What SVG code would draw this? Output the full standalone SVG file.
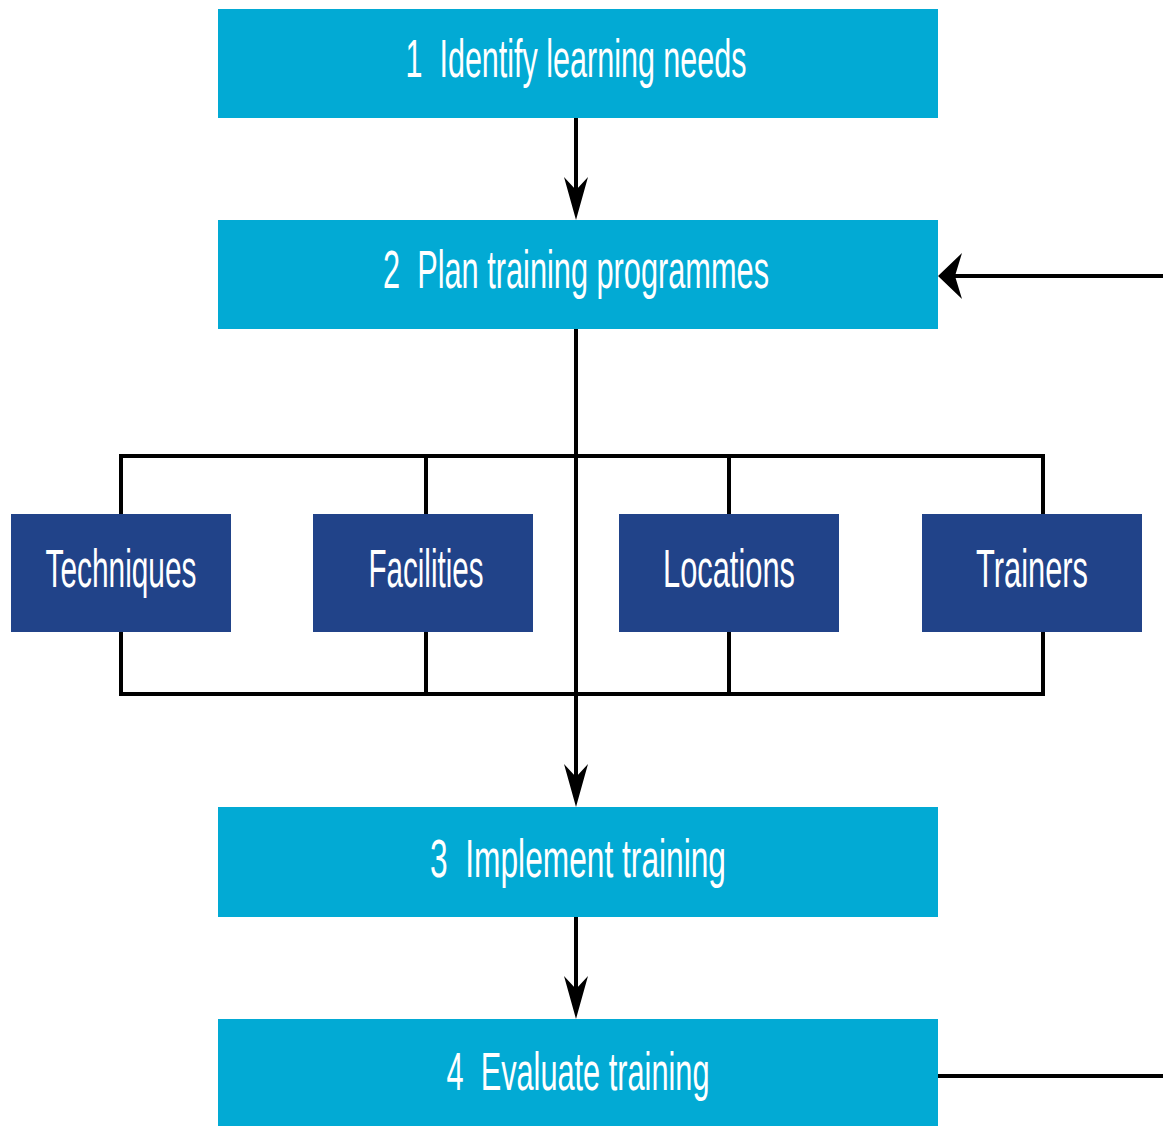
<svg xmlns="http://www.w3.org/2000/svg" width="1163" height="1126" viewBox="0 0 1163 1126">
  <style>
    .step { fill: #02aad4; }
    .item { fill: #214389; }
    .label { fill: #ffffff; font-family: "Liberation Sans", "DejaVu Sans", sans-serif; font-size: 54px; text-anchor: middle; }
    .wire { stroke: #000000; stroke-width: 4; fill: none; }
    .head { fill: #000000; }
  </style>
  <rect width="1163" height="1126" fill="#ffffff"/>

  <!-- connectors -->
  <g id="connectors">
    <line class="wire" x1="576" y1="118" x2="576" y2="200"/>
    <path class="head" d="M576,220 L564,177 L576,190 L588,177 Z"/>
    <line class="wire" x1="576" y1="329" x2="576" y2="790"/>
    <path class="head" d="M576,807 L564,764 L576,777 L588,764 Z"/>
    <!-- branch frame joining the four resources -->
    <polyline class="wire" points="121,514 121,456 1043,456 1043,514"/>
    <line class="wire" x1="426" y1="456" x2="426" y2="514"/>
    <line class="wire" x1="729" y1="456" x2="729" y2="514"/>
    <polyline class="wire" points="121,632 121,694 1043,694 1043,632"/>
    <line class="wire" x1="426" y1="632" x2="426" y2="694"/>
    <line class="wire" x1="729" y1="632" x2="729" y2="694"/>
    <line class="wire" x1="576" y1="917" x2="576" y2="1000"/>
    <path class="head" d="M576,1019 L564,976 L576,989 L588,976 Z"/>
    <!-- feedback loop -->
    <line class="wire" x1="938" y1="1076" x2="1163" y2="1076"/>
    <line class="wire" x1="952" y1="276" x2="1163" y2="276"/>
    <path class="head" d="M938,276 L962,253 L955,276 L962,299 Z"/>
  </g>

  <g id="step1">
    <rect class="step" x="218" y="9" width="720" height="109"/>
    <text class="label" x="576" y="77" textLength="341" lengthAdjust="spacingAndGlyphs" xml:space="preserve">1  Identify learning needs</text>
  </g>
  <g id="step2">
    <rect class="step" x="218" y="220" width="720" height="109"/>
    <text class="label" x="576" y="288" textLength="386" lengthAdjust="spacingAndGlyphs" xml:space="preserve">2  Plan training programmes</text>
  </g>
  <g id="techniques">
    <rect class="item" x="11" y="514" width="220" height="118"/>
    <text class="label" x="121" y="587" textLength="151" lengthAdjust="spacingAndGlyphs">Techniques</text>
  </g>
  <g id="facilities">
    <rect class="item" x="313" y="514" width="220" height="118"/>
    <text class="label" x="426" y="587" textLength="115" lengthAdjust="spacingAndGlyphs">Facilities</text>
  </g>
  <g id="locations">
    <rect class="item" x="619" y="514" width="220" height="118"/>
    <text class="label" x="729" y="587" textLength="132" lengthAdjust="spacingAndGlyphs">Locations</text>
  </g>
  <g id="trainers">
    <rect class="item" x="922" y="514" width="220" height="118"/>
    <text class="label" x="1032" y="587" textLength="112" lengthAdjust="spacingAndGlyphs">Trainers</text>
  </g>
  <g id="step3">
    <rect class="step" x="218" y="807" width="720" height="110"/>
    <text class="label" x="578" y="877" textLength="296" lengthAdjust="spacingAndGlyphs" xml:space="preserve">3  Implement training</text>
  </g>
  <g id="step4">
    <rect class="step" x="218" y="1019" width="720" height="107"/>
    <text class="label" x="578" y="1090" textLength="263" lengthAdjust="spacingAndGlyphs" xml:space="preserve">4  Evaluate training</text>
  </g>
</svg>
